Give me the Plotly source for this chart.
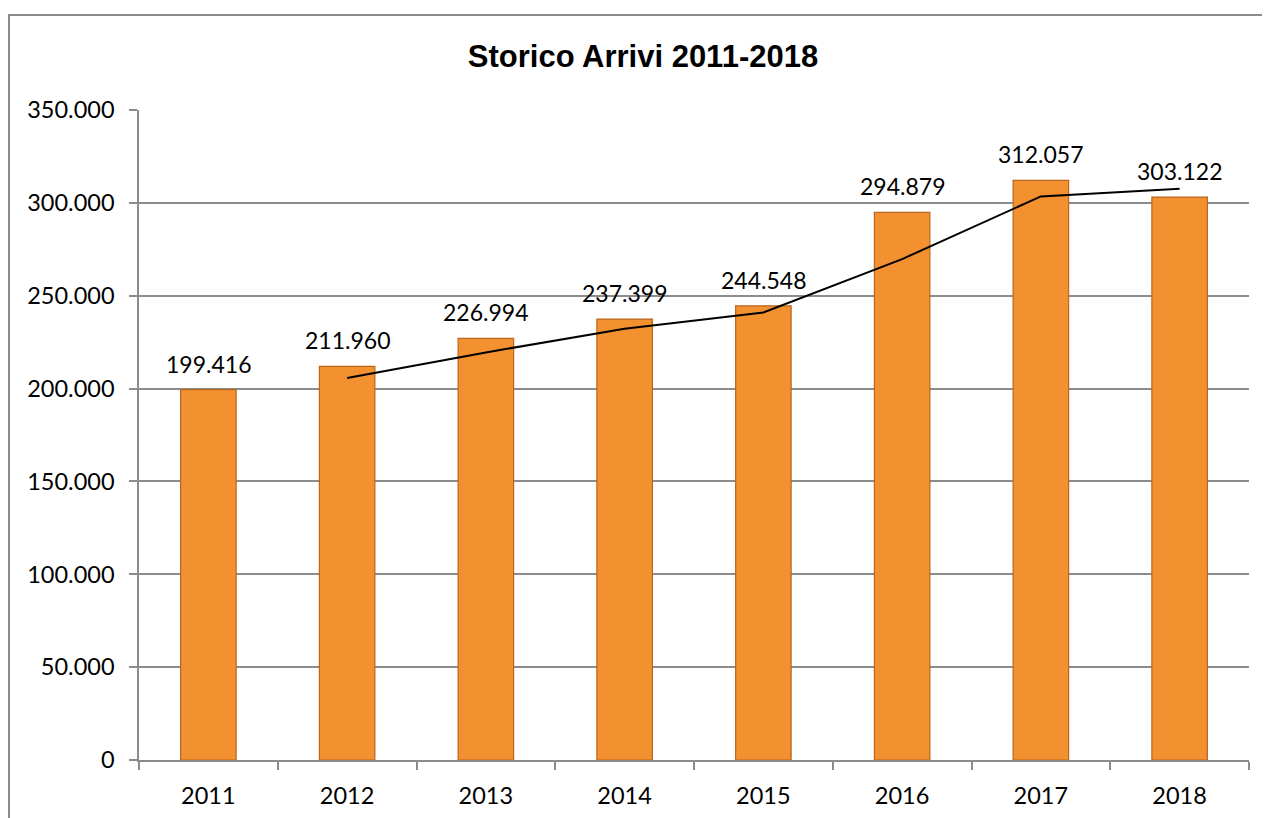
import plotly.graph_objects as go

# dati
anni = ['2011', '2012', '2013', '2014', '2015', '2016', '2017', '2018']
arrivi = [199416, 211960, 226994, 237399, 244548, 294879, 312057, 303122]

# linea di tendenza (media mobile a 2 periodi)
anni_media = ['2012', '2013', '2014', '2015', '2016', '2017', '2018']
media_mobile = [205688, 219477, 232197, 240974, 269714, 303468, 307590]

tick_vals = [0, 50000, 100000, 150000, 200000, 250000, 300000, 350000]

font_txt = 'Lato'
grigio = '#8c8c8c'

# la pagina ha 8px di margine nel body: sposto tutto di conseguenza
OFF = 8
L, T, W, H = 139 - OFF, 110 - OFF, 1110, 650

bars = go.Bar(
    x=anni, y=arrivi, width=0.4,
    marker=dict(color='#f3902f', line=dict(color='#b9661f', width=1.2)),
    showlegend=False,
)
trend = go.Scatter(
    x=anni_media, y=media_mobile, mode='lines',
    line=dict(color='black', width=2), showlegend=False,
)

fig = go.Figure(data=[bars, trend])

# etichette dei valori sopra le barre (x = indice della categoria)
for i, v in enumerate(arrivi):
    fig.add_annotation(x=i, y=v, text=f'{v:,}'.replace(',', '.'),
                       showarrow=False, yanchor='bottom', yshift=10,
                       font=dict(family=font_txt, size=23, color='black'))

fig.update_layout(
    width=1270, height=818,
    margin=dict(l=L, r=1270 - L - W, t=T, b=818 - T - H),
    paper_bgcolor='white', plot_bgcolor='white',
    separators=',.',
    title=dict(text='<b>Storico Arrivi 2011-2018</b>', x=(643 - OFF) / 1270, xanchor='center',
               y=1 - (56 - OFF) / 818, yanchor='middle',
               font=dict(family='Liberation Sans', size=31, color='black')),
    font=dict(family=font_txt, size=23.5, color='black'),
)

fig.update_yaxes(
    range=[0, 350000], tickvals=tick_vals, tickformat=',d',
    showgrid=True, gridcolor=grigio, gridwidth=1.5,
    showline=True, linecolor=grigio, linewidth=1.5,
    ticks='outside', ticklen=8, tickcolor=grigio, tickwidth=1.5,
    ticklabelstandoff=10, zeroline=False,
)
fig.update_xaxes(
    type='category', range=[-0.5, len(anni) - 0.5],
    showline=True, linecolor=grigio, linewidth=1.5,
    ticks='outside', tickson='boundaries', ticklen=8, tickcolor=grigio, tickwidth=1.5,
    ticklabelstandoff=14, showgrid=False,
)

# bordo esterno del grafico
fig.add_shape(type='rect', xref='paper', yref='paper',
              x0=(9 - 139) / W, x1=(1300 - 139) / W,
              y0=(760 - 840) / H, y1=(760 - 15) / H,
              line=dict(color=grigio, width=2), layer='below')

fig.write_html('out.html')
